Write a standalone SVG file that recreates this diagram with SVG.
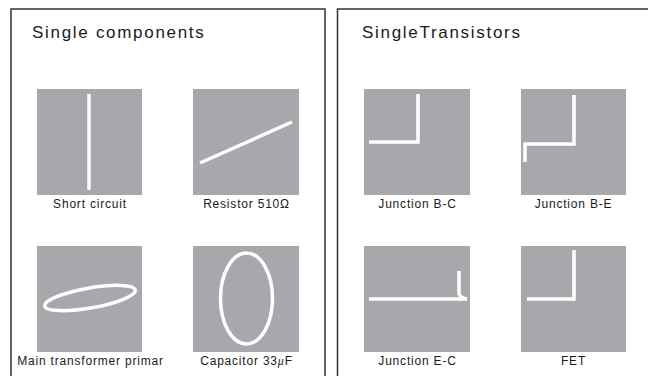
<svg xmlns="http://www.w3.org/2000/svg" width="648" height="376" viewBox="0 0 648 376">
<style>
.panel{fill:none;stroke:#333;stroke-width:1.5}
.sq{fill:#a7a8ab}
.w{fill:none;stroke:#fff;stroke-width:3.5;stroke-linecap:butt}
.title{font-family:"Liberation Sans",Arial,sans-serif;font-size:17px;letter-spacing:1.7px;fill:#1a1a1a}
.lbl{font-family:"Liberation Sans",Arial,sans-serif;font-size:12px;letter-spacing:0.8px;fill:#1a1a1a;text-anchor:middle}
</style>
<rect width="648" height="376" fill="#fff"/>
<g id="panel-left">
<path class="panel" d="M11,380 V9 H325 V380"/>
<text class="title" x="32" y="38">Single components</text>
</g>
<g id="panel-right">
<path class="panel" d="M337.5,380 V9 H652"/>
<text class="title" x="362" y="38">SingleTransistors</text>
</g>
<g id="short-circuit">
<rect class="sq" x="37" y="89" width="105" height="106"/>
<line class="w" x1="89" y1="94" x2="89" y2="190"/>
<text class="lbl" x="90" y="208">Short circuit</text>
</g>
<g id="resistor">
<rect class="sq" x="193" y="89" width="106" height="106"/>
<line class="w" x1="200" y1="163" x2="292" y2="122"/>
<text class="lbl" x="246.5" y="208">Resistor 510Ω</text>
</g>
<g id="transformer">
<rect class="sq" x="37" y="246" width="105" height="106"/>
<ellipse class="w" cx="90" cy="298" rx="46" ry="10" transform="rotate(-10 90 298)" stroke-width="3.5"/>
<text class="lbl" x="90.5" y="365">Main transformer primar</text>
</g>
<g id="capacitor">
<rect class="sq" x="193" y="246" width="106" height="106"/>
<ellipse class="w" cx="246.5" cy="298.5" rx="26" ry="45.5" stroke-width="3.5"/>
<text class="lbl" x="246.5" y="365">Capacitor 33<tspan font-family="Liberation Serif,serif" font-style="italic">μ</tspan>F</text>
</g>
<g id="junction-bc">
<rect class="sq" x="364" y="89" width="106" height="106"/>
<path class="w" d="M369,142 H418 V94"/>
<text class="lbl" x="417.5" y="208">Junction B-C</text>
</g>
<g id="junction-be">
<rect class="sq" x="521" y="89" width="105" height="106"/>
<path class="w" d="M574,95 V144 H525 V162"/>
<text class="lbl" x="573.5" y="208">Junction B-E</text>
</g>
<g id="junction-ec">
<rect class="sq" x="364" y="246" width="106" height="106"/>
<path class="w" d="M369,299 H467"/>
<path class="w" d="M459,271 V293 Q459,297 467,299"/>
<text class="lbl" x="417.5" y="365">Junction E-C</text>
</g>
<g id="fet">
<rect class="sq" x="521" y="246" width="105" height="106"/>
<path class="w" d="M527,299 H574 V250"/>
<text class="lbl" x="573.5" y="365">FET</text>
</g>
</svg>
